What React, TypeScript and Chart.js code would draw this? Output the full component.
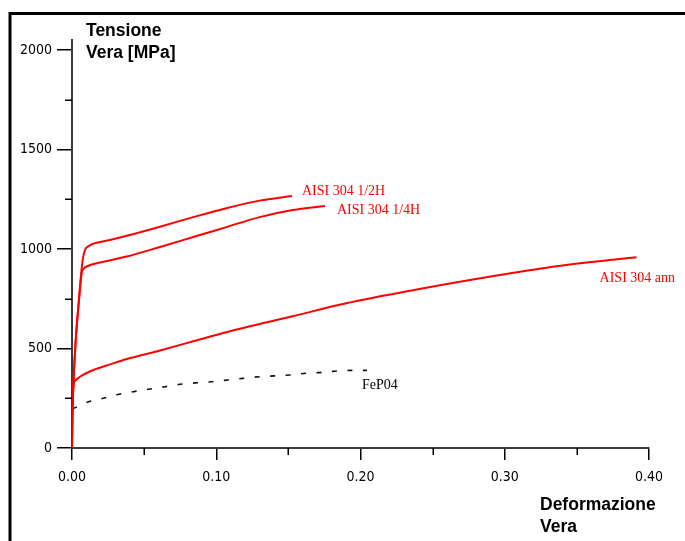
import React, { useEffect, useRef } from "react";
import { Chart, registerables } from "chart.js";

Chart.register(...registerables);

// ---- Data (true strain / true stress [MPa]) ----
const halfHStrain = [0, 0.0002, 0.0009, 0.0026, 0.0044, 0.0055, 0.0074, 0.009, 0.0111, 0.0148, 0.0263, 0.0379, 0.061, 0.084, 0.107, 0.13, 0.1525];
const halfHStress = [0, 126, 307, 543, 709, 809, 945, 995, 1013, 1027, 1045, 1066, 1112, 1160, 1205, 1243, 1266];

const quarterHStrain = [0, 0.0002, 0.0009, 0.0026, 0.0044, 0.0058, 0.0067, 0.0083, 0.0102, 0.0194, 0.0379, 0.061, 0.084, 0.107, 0.13, 0.153, 0.1754];
const quarterHStress = [0, 126, 307, 543, 709, 819, 880, 903, 912, 932, 962, 1010, 1060, 1110, 1160, 1196, 1216];

const annStrain = [0, 0.0002, 0.0009, 0.0028, 0.0055, 0.0148, 0.0263, 0.0379, 0.061, 0.084, 0.107, 0.153, 0.19, 0.237, 0.283, 0.329, 0.375, 0.3914];
const annStress = [0, 126, 307, 342, 358, 392, 420, 447, 490, 536, 582, 662, 727, 794, 853, 906, 946, 958];

const fepStrain = [0.0002, 0.0106, 0.0217, 0.0326, 0.0425, 0.053, 0.0645, 0.0749, 0.0853, 0.0968, 0.108, 0.1185, 0.13, 0.151, 0.164, 0.173, 0.1835, 0.194, 0.2045];
const fepStress = [196, 230, 250, 270, 283, 295, 308, 320, 327, 333, 342, 350, 358, 367, 377, 380, 387, 390, 390];

const seriesNames = ["AISI 304 1/2H", "AISI 304 1/4H", "AISI 304 ann", "FeP04"];

const xTicks = [0, 0.1, 0.2, 0.3, 0.4];
const xMinorTicks = [0.05, 0.15, 0.25, 0.35];
const yTicks = [0, 500, 1000, 1500, 2000];
const yMinorTicks = [250, 750, 1250, 1750];

const yTitleLines = ["Tensione", "Vera [MPa]"];
const xTitleLines = ["Deformazione", "Vera"];

const toPoints = (xs: number[], ys: number[]) => xs.map((x, i) => ({ x, y: ys[i] }));

const TICK_FONT = "'Liberation Sans Narrow', 'DejaVu Sans Condensed', 'Liberation Sans', sans-serif";

// label offsets (px) relative to each series' last point
const labelOffsets = [
  { dx: 10, dy: -1, color: "#ff0000" },
  { dx: 12, dy: 8, color: "#ff0000" },
  { dx: -37, dy: 24.5, color: "#ff0000" },
  { dx: -5, dy: 19, color: "#000000" },
];

const decorPlugin = {
  id: "decor",
  beforeDraw(chart: any) {
    const ctx = chart.ctx;
    ctx.save();
    ctx.fillStyle = "#ffffff";
    ctx.fillRect(0, 0, chart.width, chart.height);
    ctx.restore();
  },
  afterDraw(chart: any) {
    const ctx = chart.ctx;
    const xs = chart.scales.x;
    const ys = chart.scales.y;
    const area = chart.chartArea;
    ctx.save();

    // figure frame (left and top)
    ctx.strokeStyle = "#000";
    ctx.lineWidth = 3;
    ctx.beginPath();
    ctx.moveTo(10, chart.height);
    ctx.lineTo(10, 13.5);
    ctx.lineTo(chart.width, 13.5);
    ctx.stroke();

    // minor ticks
    ctx.lineWidth = 1.5;
    ctx.strokeStyle = "#000";
    ctx.beginPath();
    yMinorTicks.forEach((v) => {
      const py = Math.round(ys.getPixelForValue(v)) + 0.25;
      ctx.moveTo(area.left - 7, py);
      ctx.lineTo(area.left, py);
    });
    xMinorTicks.forEach((v) => {
      const px = Math.round(xs.getPixelForValue(v)) + 0.25;
      ctx.moveTo(px, area.bottom);
      ctx.lineTo(px, area.bottom + 7);
    });
    ctx.stroke();

    // axis titles
    ctx.fillStyle = "#000";
    ctx.font = "bold 17.5px 'Liberation Sans', Arial, sans-serif";
    ctx.textAlign = "left";
    ctx.textBaseline = "alphabetic";
    yTitleLines.forEach((t, i) => ctx.fillText(t, area.left + 14, area.top - 4 + i * 22));
    xTitleLines.forEach((t, i) => ctx.fillText(t, area.right - 109, area.bottom + 62 + i * 22));

    // series labels
    ctx.font = "14px 'Liberation Serif', 'Times New Roman', serif";
    chart.data.datasets.forEach((ds: any, i: number) => {
      const last = ds.data[ds.data.length - 1];
      const px = xs.getPixelForValue(last.x);
      const py = ys.getPixelForValue(last.y);
      const o = labelOffsets[i];
      ctx.fillStyle = o.color;
      ctx.fillText(seriesNames[i], px + o.dx, py + o.dy);
    });

    ctx.restore();
  },
};

export default function App() {
  const ref = useRef<HTMLCanvasElement | null>(null);

  useEffect(() => {
    if (!ref.current) return;
    const red = "#ff0000";
    const common = { pointRadius: 0, fill: false, cubicInterpolationMode: "monotone" };
    const chart = new Chart(ref.current, {
      type: "line",
      data: {
        datasets: [
          { ...common, label: seriesNames[0], data: toPoints(halfHStrain, halfHStress), borderColor: red, borderWidth: 2 },
          { ...common, label: seriesNames[1], data: toPoints(quarterHStrain, quarterHStress), borderColor: red, borderWidth: 2 },
          { ...common, label: seriesNames[2], data: toPoints(annStrain, annStress), borderColor: red, borderWidth: 2 },
          { ...common, label: seriesNames[3], data: toPoints(fepStrain, fepStress), borderColor: "#111111", borderWidth: 1.6, borderDash: [5, 10.5] },
        ],
      },
      options: {
        animation: false,
        responsive: false,
        devicePixelRatio: 1,
        layout: { padding: { left: 0, top: 40, right: 36, bottom: 0 } },
        plugins: { legend: { display: false }, tooltip: { enabled: false } },
        scales: {
          x: {
            type: "linear",
            min: 0,
            max: 0.4,
            afterBuildTicks: (s: any) => {
              s.ticks = xTicks.map((v) => ({ value: v }));
            },
            afterFit: (s: any) => {
              s.height = 93;
            },
            ticks: {
              callback: (v: any) => Number(v).toFixed(2),
              font: { family: TICK_FONT, size: 14 },
              color: "#000",
              padding: 9,
              maxRotation: 0,
              autoSkip: false,
            },
            grid: { drawOnChartArea: false, drawTicks: true, tickLength: 12, color: "#000", lineWidth: 1.5 },
            border: { display: true, color: "#3a3a3a", width: 2 },
          },
          y: {
            type: "linear",
            min: 0,
            max: 2050,
            afterBuildTicks: (s: any) => {
              s.ticks = yTicks.map((v) => ({ value: v }));
            },
            afterFit: (s: any) => {
              s.width = 72;
            },
            ticks: {
              callback: (v: any) => String(v),
              font: { family: TICK_FONT, size: 14 },
              color: "#000",
              padding: 5,
              autoSkip: false,
            },
            grid: { drawOnChartArea: false, drawTicks: true, tickLength: 15, color: "#000", lineWidth: 1.5 },
            border: { display: true, color: "#3a3a3a", width: 2 },
          },
        },
      },
      plugins: [decorPlugin],
    } as any);
    return () => chart.destroy();
  }, []);

  return (
    <div style={{ position: "fixed", left: 0, top: 0, width: 685, height: 541, background: "#fff" }}>
      <canvas ref={ref} width={685} height={541} style={{ width: 685, height: 541, display: "block" }} />
    </div>
  );
}
